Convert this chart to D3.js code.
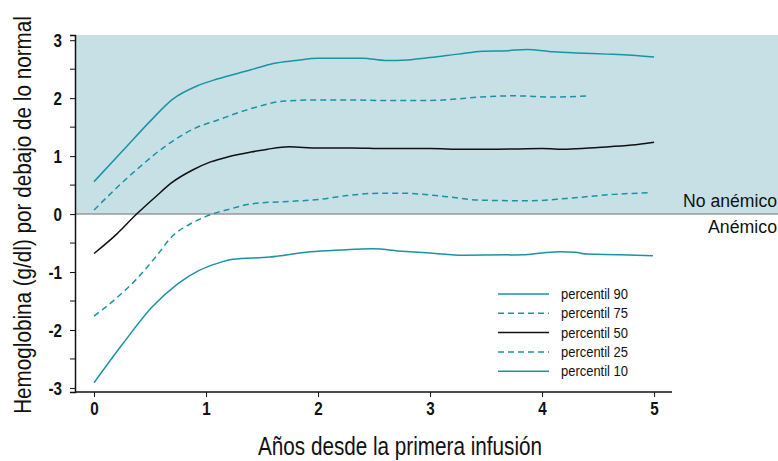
<!DOCTYPE html>
<html>
<head>
<meta charset="utf-8">
<script src="https://cdn.jsdelivr.net/npm/d3@7"></script>
<style>
  body { margin: 0; background: #fff; }
  svg { display: block; font-family: "Liberation Sans", Arial, sans-serif; }
</style>
</head>
<body>
<svg id="chart"></svg>
<script>
// values: [years, g/dl below normal]
const p90 = [[0,0.56],[0.26,1.1],[0.5,1.6],[0.7,1.98],[0.93,2.22],[1.1,2.33],[1.4,2.49],[1.6,2.6],[1.8,2.65],[2,2.69],[2.2,2.69],[2.4,2.69],[2.6,2.65],[2.8,2.66],[3,2.7],[3.25,2.76],[3.47,2.81],[3.7,2.82],[3.86,2.84],[4.1,2.8],[4.3,2.78],[4.58,2.76],[4.8,2.74],[5,2.71]];
const p75 = [[0,0.07],[0.2,0.45],[0.4,0.8],[0.65,1.19],[0.9,1.48],[1.1,1.62],[1.42,1.83],[1.7,1.95],[2,1.97],[2.3,1.97],[2.6,1.96],[3,1.96],[3.2,1.98],[3.45,2.02],[3.75,2.04],[4.1,2.02],[4.42,2.04]];
const p50 = [[0,-0.68],[0.2,-0.35],[0.38,0],[0.55,0.3],[0.7,0.55],[0.88,0.76],[1.04,0.9],[1.2,0.99],[1.4,1.07],[1.55,1.12],[1.74,1.16],[2,1.14],[2.3,1.14],[2.6,1.13],[3,1.13],[3.3,1.12],[3.6,1.12],[4,1.13],[4.22,1.12],[4.5,1.15],[4.8,1.19],[5,1.24]];
const p25 = [[0,-1.76],[0.2,-1.45],[0.38,-1.12],[0.55,-0.74],[0.71,-0.36],[0.85,-0.18],[1,-0.04],[1.2,0.08],[1.42,0.18],[1.75,0.22],[2,0.25],[2.26,0.32],[2.55,0.36],[2.75,0.36],[3.15,0.3],[3.45,0.24],[3.9,0.23],[4.22,0.27],[4.64,0.34],[4.97,0.37]];
const p10 = [[0,-2.91],[0.26,-2.23],[0.52,-1.6],[0.75,-1.2],[0.93,-0.98],[1.1,-0.85],[1.24,-0.78],[1.57,-0.74],[1.93,-0.65],[2.2,-0.62],[2.49,-0.6],[2.75,-0.64],[3,-0.67],[3.3,-0.71],[3.83,-0.7],[4,-0.67],[4.16,-0.65],[4.3,-0.66],[4.4,-0.69],[4.7,-0.7],[4.99,-0.72]];

const series_names = ["percentil 90", "percentil 75", "percentil 50", "percentil 25", "percentil 10"];
const series_data = [p90, p75, p50, p25, p10];
const x_ticks = [0, 1, 2, 3, 4, 5];
const y_ticks = [-3, -2, -1, 0, 1, 2, 3];
const y_minor = [-2.5, -1.5, -0.5, 0.5, 1.5, 2.5];

const teal = "#1a93a5";
const styles = [
    {color: teal, dash: null},
    {color: teal, dash: "6,4"},
    {color: "#111", dash: null},
    {color: teal, dash: "6,4"},
    {color: teal, dash: null},
];

const width = 778;
const height = 461;

// squeeze text horizontally, the original uses a condensed face
function condense(sel, factor) {
    sel.each(function () {
        const w = this.getComputedTextLength();
        d3.select(this)
            .attr("textLength", w * factor)
            .attr("lengthAdjust", "spacingAndGlyphs");
    });
}

const svg = d3.select("#chart")
    .attr("width", width)
    .attr("height", height);

const x = d3.scaleLinear()
    .domain([-0.17, 5.16])
    .range([75, 672]);

const y = d3.scaleLinear()
    .domain([-3.07, 3.09])
    .range([392, 35]);

// non-anaemic zone
svg.append("rect")
    .attr("x", x(-0.17))
    .attr("y", y(3.09))
    .attr("width", width - x(-0.17))
    .attr("height", y(0) - y(3.09))
    .attr("fill", "#c6e0e6");

svg.append("line")
    .attr("x1", x(-0.17))
    .attr("x2", width)
    .attr("y1", y(0))
    .attr("y2", y(0))
    .attr("stroke", "#999")
    .attr("stroke-width", 1.5);

svg.append("text")
    .attr("x", width - 1)
    .attr("y", y(0) - 7)
    .attr("text-anchor", "end")
    .attr("font-size", 18)
    .attr("fill", "#111")
    .text("No anémico")
    .attr("textLength", 94)
    .attr("lengthAdjust", "spacingAndGlyphs");

svg.append("text")
    .attr("x", width - 1)
    .attr("y", y(0) + 19)
    .attr("text-anchor", "end")
    .attr("font-size", 18)
    .attr("fill", "#111")
    .text("Anémico")
    .attr("textLength", 69)
    .attr("lengthAdjust", "spacingAndGlyphs");

// axes
const xAxis = svg.append("g")
    .attr("transform", `translate(0,${y(-3.07)})`)
    .call(d3.axisBottom(x).tickValues(x_ticks).tickFormat(d => String(d)).tickSizeOuter(0).tickSize(5).tickPadding(5));

const yAxis = svg.append("g")
    .attr("transform", `translate(${x(-0.17)},0)`)
    .call(d3.axisLeft(y).tickValues(y_ticks).tickFormat(d => String(d)).tickSizeOuter(0).tickSize(5).tickPadding(8));

yAxis.selectAll(".minor")
    .data(y_minor)
    .join("line")
    .attr("class", "minor")
    .attr("x1", -5)
    .attr("x2", 0)
    .attr("y1", d => y(d))
    .attr("y2", d => y(d))
    .attr("stroke", "#111");

[xAxis, yAxis].forEach(a => {
    a.select(".domain").attr("stroke", "#111").attr("stroke-width", 1.5);
    a.selectAll(".tick line").attr("stroke", "#111");
    a.selectAll(".tick text")
        .attr("font-family", null)
        .attr("font-size", 19)
        .attr("font-weight", "bold")
        .attr("fill", "#111")
        .call(condense, 0.8);
});
xAxis.select(".domain").attr("d", `M${x(-0.17)},0H${x(5.16)}`);

svg.append("text")
    .attr("x", 400)
    .attr("y", 455)
    .attr("text-anchor", "middle")
    .attr("font-size", 25)
    .attr("fill", "#111")
    .text("Años desde la primera infusión")
    .attr("textLength", 284)
    .attr("lengthAdjust", "spacingAndGlyphs");

// y title: scaled along its own direction instead of textLength
const yTitle = svg.append("text")
    .attr("text-anchor", "middle")
    .attr("font-size", 24)
    .attr("fill", "#111")
    .text("Hemoglobina (g/dl) por debajo de lo normal");
const yTitleScale = 398 / yTitle.node().getComputedTextLength();
yTitle.attr("transform", `translate(31,215) rotate(-90) scale(${yTitleScale},1)`);

// percentile lines
const line = d3.line()
    .x(d => x(d[0]))
    .y(d => y(d[1]))
    .curve(d3.curveMonotoneX);

svg.append("g")
    .selectAll("path")
    .data(series_data)
    .join("path")
    .attr("d", line)
    .attr("fill", "none")
    .attr("stroke", (d, i) => styles[i].color)
    .attr("stroke-dasharray", (d, i) => styles[i].dash)
    .attr("stroke-width", 1.5);

// legend
const legend = svg.append("g")
    .selectAll("g")
    .data(series_names)
    .join("g")
    .attr("transform", (d, i) => `translate(498,${294 + i * 19.3})`);

legend.append("line")
    .attr("x1", 0)
    .attr("x2", 51)
    .attr("stroke", (d, i) => styles[i].color)
    .attr("stroke-dasharray", (d, i) => styles[i].dash)
    .attr("stroke-width", 1.5);

legend.append("text")
    .attr("x", 63)
    .attr("y", 5)
    .attr("font-size", 14)
    .attr("fill", "#111")
    .text(d => d)
    .attr("textLength", 67)
    .attr("lengthAdjust", "spacingAndGlyphs");
</script>
</body>
</html>
